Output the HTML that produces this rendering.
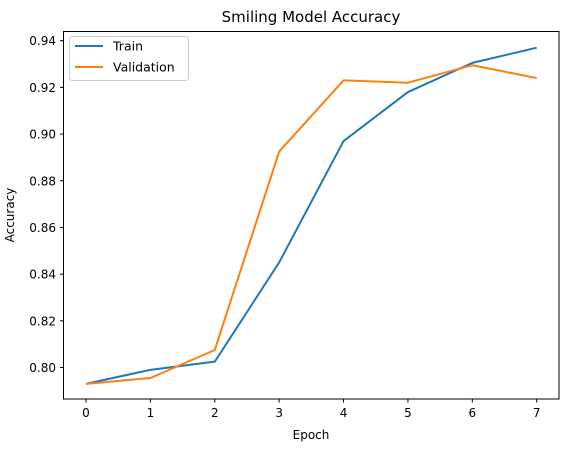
<!DOCTYPE html>
<html><head><meta charset="utf-8"><style>
body{margin:0;background:#fff;}
svg text{font-family:"DejaVu Sans","Liberation Sans",sans-serif;fill:#000;}
</style></head><body>
<svg id="chart" width="566" height="446">
<text x="311" y="22" font-size="15" text-anchor="middle">Smiling Model Accuracy</text>
<g id="axes"></g>
<g id="lines"></g>
<rect x="63.5" y="31.5" width="495.5" height="367.5" fill="none" stroke="#000" stroke-width="1"/>
<text x="311" y="439" font-size="12" text-anchor="middle">Epoch</text>
<text transform="translate(14,215) rotate(-90)" font-size="12" text-anchor="middle">Accuracy</text>
<g>
<rect x="69.5" y="36.5" width="119" height="44" rx="3" fill="#fff" stroke="#ccc"/>
<line x1="75" y1="46" x2="103" y2="46" stroke="#1f77b4" stroke-width="2"/>
<text x="113" y="50.5" font-size="12.5">Train</text>
<line x1="75" y1="67" x2="103" y2="67" stroke="#ff7f0e" stroke-width="2"/>
<text x="113" y="71.5" font-size="12.5">Validation</text>
</g>
</svg>
<script>
const epochs=[0,1,2,3,4,5,6,7];
const trainAcc=[0.793,0.799,0.8025,0.845,0.897,0.918,0.9305,0.937];
const valAcc=[0.793,0.7955,0.8075,0.8925,0.923,0.922,0.9295,0.924];
const yTicks=[0.80,0.82,0.84,0.86,0.88,0.90,0.92,0.94];
const yTickLabels=["0.80","0.82","0.84","0.86","0.88","0.90","0.92","0.94"];
const xTicks=[0,1,2,3,4,5,6,7];
const NS="http://www.w3.org/2000/svg";
function X(v){return 86+(v-0)*(536.7-86)/7;}
function Y(v){return 367.5+(v-0.80)*(40.7-367.5)/0.14;}
const axes=document.getElementById('axes'),lines=document.getElementById('lines');
function mk(t,a,p){const e=document.createElementNS(NS,t);for(const k in a)e.setAttribute(k,a[k]);p.appendChild(e);return e;}
xTicks.forEach(v=>{
 const l=mk('line',{x1:X(v),x2:X(v),y1:399,y2:402.5,stroke:'#000'},axes);
 
 
 const t=mk('text',{x:X(v),y:417,'font-size':12,'text-anchor':'middle'},axes);t.textContent=v;
 
 
});
yTicks.forEach((v,i)=>{
 const l=mk('line',{x1:60,x2:63.5,y1:Y(v),y2:Y(v),stroke:'#000'},axes);
 
 
 const t=mk('text',{x:56,y:Y(v)+4.5,'font-size':12,'text-anchor':'end'},axes);t.textContent=yTickLabels[i];
 
 
});
function series(d,c,n){
 const p=mk('polyline',{points:epochs.map((e,i)=>X(e)+','+Y(d[i])).join(' '),fill:'none',stroke:c,'stroke-width':2,'stroke-linejoin':'round'},lines);
 
 
}
series(trainAcc,'#1f77b4','train-line');
series(valAcc,'#ff7f0e','validation-line');
</script>
</body></html>
